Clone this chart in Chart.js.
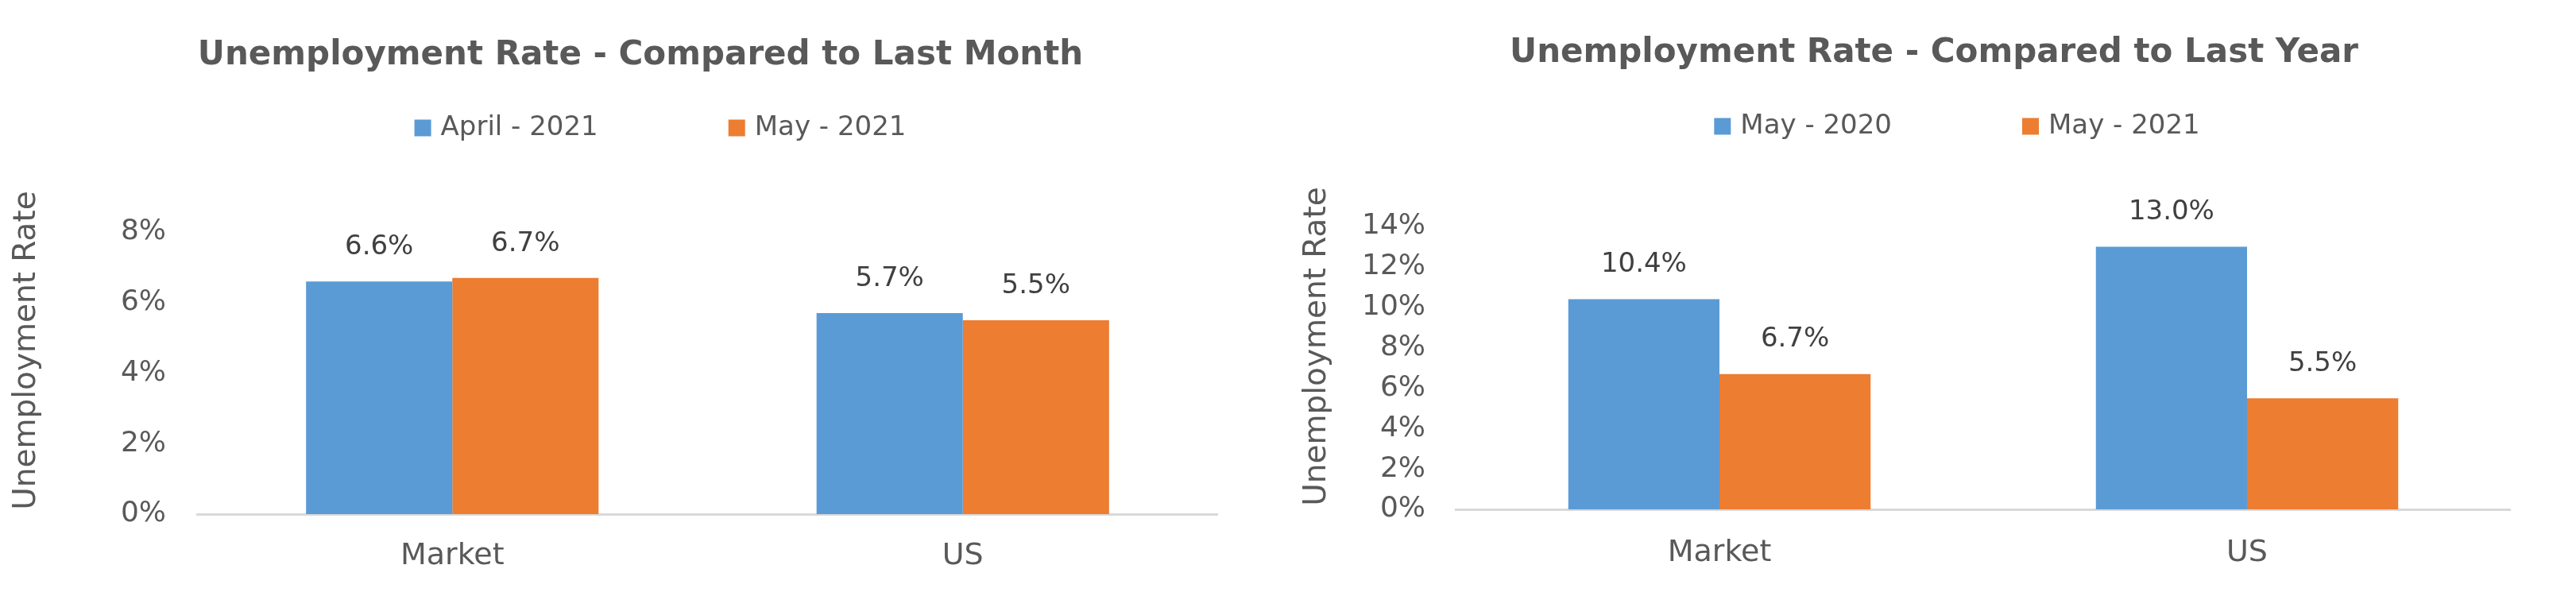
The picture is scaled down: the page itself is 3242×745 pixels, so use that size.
<!DOCTYPE html>
<html>
<head>
<meta charset="utf-8">
<script src="https://cdn.jsdelivr.net/npm/chart.js@4.4.0/dist/chart.umd.min.js"></script>
<style>
  html, body { margin: 0; padding: 0; background: #fff; }
  body { width: 3242px; height: 745px; position: relative; overflow: hidden; }
  .box { position: absolute; top: 0; height: 745px; }
  #monthBox { left: 0; width: 1533px; }
  #yearBox { left: 1600px; width: 1560px; }
</style>
</head>
<body>
<div class="box" id="monthBox"><canvas id="monthChart"></canvas></div>
<div class="box" id="yearBox"><canvas id="yearChart"></canvas></div>
<script>
const categories = ['Market', 'US'];

const monthTitle = 'Unemployment Rate - Compared to Last Month';
const monthSeries = ['April - 2021', 'May - 2021'];
const april2021 = [6.6, 5.7];
const may2021Month = [6.7, 5.5];
const monthTicks = [0, 2, 4, 6, 8];

const yearTitle = 'Unemployment Rate - Compared to Last Year';
const yearSeries = ['May - 2020', 'May - 2021'];
const may2020 = [10.4, 13.0];
const may2021Year = [6.7, 5.5];
const yearTicks = [0, 2, 4, 6, 8, 10, 12, 14];

const axisTitle = 'Unemployment Rate';
const BLUE = '#5B9BD5';
const ORANGE = '#ED7D31';
const TEXT = '#595959';
const FONT = '"DejaVu Sans"';

Chart.defaults.font.family = FONT;
Chart.defaults.color = TEXT;

// data labels, legend and the y axis title
const decor = {
  id: 'decor',
  afterDatasetsDraw(chart, args, opts) {
    const ctx = chart.ctx;
    ctx.save();
    ctx.font = '34px ' + FONT;
    ctx.fillStyle = '#404040';
    ctx.textAlign = 'center';
    ctx.textBaseline = 'middle';
    chart.data.datasets.forEach((ds, di) => {
      chart.getDatasetMeta(di).data.forEach((bar, i) => {
        ctx.fillText(ds.data[i].toFixed(1) + '%', bar.x, bar.y - opts.labelGap);
      });
    });
    ctx.restore();
  },
  afterDraw(chart, args, opts) {
    const ctx = chart.ctx;
    ctx.save();
    // legend
    ctx.font = '34px ' + FONT;
    ctx.textBaseline = 'middle';
    ctx.textAlign = 'left';
    const boxW = 21, boxGap = 12, itemGap = 164;
    const items = chart.data.datasets.map(ds => ({
      text: ds.label, color: ds.backgroundColor,
      w: boxW + boxGap + ctx.measureText(ds.label).width
    }));
    const total = items.reduce((s, it) => s + it.w, 0) + itemGap * (items.length - 1);
    let x = opts.legendX - total / 2;
    items.forEach(it => {
      ctx.fillStyle = it.color;
      ctx.fillRect(x, opts.legendY - 10.5, boxW, 21);
      ctx.fillStyle = TEXT;
      ctx.fillText(it.text, x + boxW + boxGap, opts.legendY);
      x += it.w + itemGap;
    });
    // y axis title
    ctx.font = '39px ' + FONT;
    ctx.textAlign = 'center';
    ctx.translate(opts.axisX, opts.axisY);
    ctx.rotate(-Math.PI / 2);
    ctx.fillText(axisTitle, 0, 0);
    ctx.restore();
  }
};

function makeChart(id, title, names, a, b, ticks, lay) {
  return new Chart(document.getElementById(id), {
    type: 'bar',
    data: {
      labels: categories,
      datasets: [
        { label: names[0], data: a, backgroundColor: BLUE },
        { label: names[1], data: b, backgroundColor: ORANGE }
      ]
    },
    options: {
      responsive: true,
      maintainAspectRatio: false,
      animation: false,
      layout: { padding: { left: lay.padLeft, right: 0, top: 0, bottom: 0 } },
      datasets: { bar: { barPercentage: 1, categoryPercentage: 0.573 } },
      plugins: {
        legend: { display: false },
        tooltip: { enabled: false },
        title: {
          display: true,
          text: title,
          color: TEXT,
          font: { size: 42, weight: 'bold', lineHeight: 1.2 },
          padding: { top: lay.titleTop, bottom: lay.titleBottom }
        },
        decor: {
          labelGap: 43,
          legendX: lay.legendX, legendY: lay.legendY,
          axisX: lay.axisX, axisY: lay.axisY
        }
      },
      scales: {
        x: {
          grid: { display: false, drawTicks: false },
          border: { display: true, color: '#D9D9D9', width: 3 },
          ticks: { padding: lay.xPad, color: TEXT, font: { size: 38 } },
          afterFit: s => { s.height = lay.xHeight; }
        },
        y: {
          min: ticks[0],
          max: ticks[ticks.length - 1],
          grid: { display: false, drawTicks: false },
          border: { display: false },
          ticks: {
            padding: lay.yPad, color: TEXT, font: { size: 36 },
            callback: v => v + '%'
          },
          afterBuildTicks: s => { s.ticks = ticks.map(v => ({ value: v })); },
          afterFit: s => { s.width = lay.yWidth; }
        }
      }
    },
    plugins: [decor]
  });
}

makeChart('monthChart', monthTitle, monthSeries, april2021, may2021Month, monthTicks, {
  padLeft: 79, yWidth: 169, yPad: 39, xHeight: 98, xPad: 30,
  titleTop: 45, titleBottom: 196.6,
  legendX: 831, legendY: 161, axisX: 34, axisY: 441
});

makeChart('yearChart', yearTitle, yearSeries, may2020, may2021Year, yearTicks, {
  padLeft: 108, yWidth: 124, yPad: 38, xHeight: 104, xPad: 32,
  titleTop: 42, titleBottom: 192.6,
  legendX: 863, legendY: 159, axisX: 58, axisY: 436
});
</script>
</body>
</html>
